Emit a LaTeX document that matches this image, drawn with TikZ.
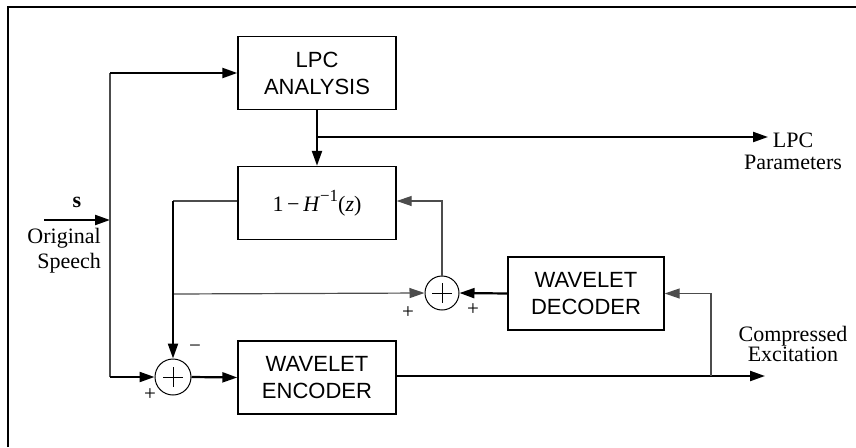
\documentclass[tikz,border=0pt]{standalone}
\usepackage{fontspec}
\setmainfont{Liberation Serif}
\newfontfamily\boxfont{Liberation Sans}
\usetikzlibrary{arrows.meta}
\begin{document}
\begin{tikzpicture}[x=1pt,y=-1pt,
 blk/.style={draw,line width=1.4pt,minimum width=158pt,minimum height=73pt,inner sep=0pt,align=center,font=\boxfont\fontsize{22}{27}\selectfont},
 sumc/.style={draw,circle,line width=1pt,minimum size=36pt,inner sep=0pt},
 thk/.style={line width=2.2pt,draw=black},
 thn/.style={line width=1.2pt,draw=black!70},
 tip/.style={-{Triangle[length=15pt,width=10pt]}},
 lbl/.style={font=\fontsize{22}{22}\selectfont,inner sep=0pt},
 sgn/.style={font=\fontsize{21}{21}\selectfont,inner sep=0pt}]
\useasboundingbox (0,0) rectangle (856,447);
\draw[line width=2pt] (8,447) -- (8,7) -- (856,7);

% blocks
\node[blk] (lpc) at (317,73) {LPC\\ANALYSIS};
\node[blk,font=\fontsize{22}{22}\selectfont] (h) at (317,203) {1\,−\,\textit{H}\raisebox{0.45em}{\fontsize{17}{17}\selectfont −1}(\textit{z})};
\node[blk,minimum width=156pt] (dec) at (586,293.5) {WAVELET\\DECODER};
\node[blk] (enc) at (317,377.5) {WAVELET\\ENCODER};
\node[sumc] (s1) at (173,377) {};
\node[sumc,minimum size=34pt] (s2) at (442,293) {};
\foreach \c in {s1,s2}{
  \draw[line width=0.9pt] (\c.center) ++(-10,0) -- ++(20,0);
  \draw[line width=0.9pt] (\c.center) ++(0,-10) -- ++(0,20);
}

% coordinates
\coordinate (sin) at (44,220);
\coordinate (jin) at (110,220);
\coordinate (jtop) at (110,73);
\coordinate (jbot) at (110,377);
\coordinate (lpcj) at (lpc.south |- 0,137);
\coordinate (lpcout) at (768,137);
\coordinate (excj) at (711,376);
\coordinate (excout) at (765,376);
\coordinate (fbL) at (173,201);
\coordinate (fbM) at (173,294);
\coordinate (s2up) at (442,201);

% connectors
\draw[thk,tip] (sin) -- (jin);
\draw[thn] (jtop) -- (jbot);
\draw[thk,tip] (jtop) -- (lpc.west);
\draw[thk,tip] (jbot) -- (s1.west);
\draw[thk,tip] (s1.east) -- (enc.west);
\draw[thk,tip] (enc.east |- excout) -- (excout);
\draw[thn,tip] (excj) |- (dec.east);
\draw[thk,tip] (dec.west) -- (s2.east);
\draw[thn,tip] (fbM) -- (s2.west);
\draw[thn,tip] (s2.north) -- (s2up) -- (h.east |- s2up);
\draw[thn] (h.west |- fbL) -- (fbL);
\draw[thk,tip] (fbL) -- (s1.north);
\draw[thk,tip] (lpc.south) -- (h.north);
\draw[thk,tip] (lpcj) -- (lpcout);

% labels
\node[lbl] (slab) at (77,202) {\textbf{s}};
\node[lbl,align=right,anchor=east,font=\fontsize{22}{25}\selectfont] (orig) at (101,251) {Original\\Speech};
\node[lbl,align=center,font=\fontsize{22}{22}\selectfont] (lpcpar) at (793,151) {LPC\\Parameters};
\node[lbl,align=center,font=\fontsize{22}{18}\selectfont] (cexc) at (793,344) {Compressed\\Excitation};
\node[sgn] (m1) at (195,349) {−};
\node[sgn] (p1) at (150,395) {+};
\node[sgn] (p2) at (408,313) {+};
\node[sgn] (p3) at (473,310) {+};
\end{tikzpicture}
\end{document}
